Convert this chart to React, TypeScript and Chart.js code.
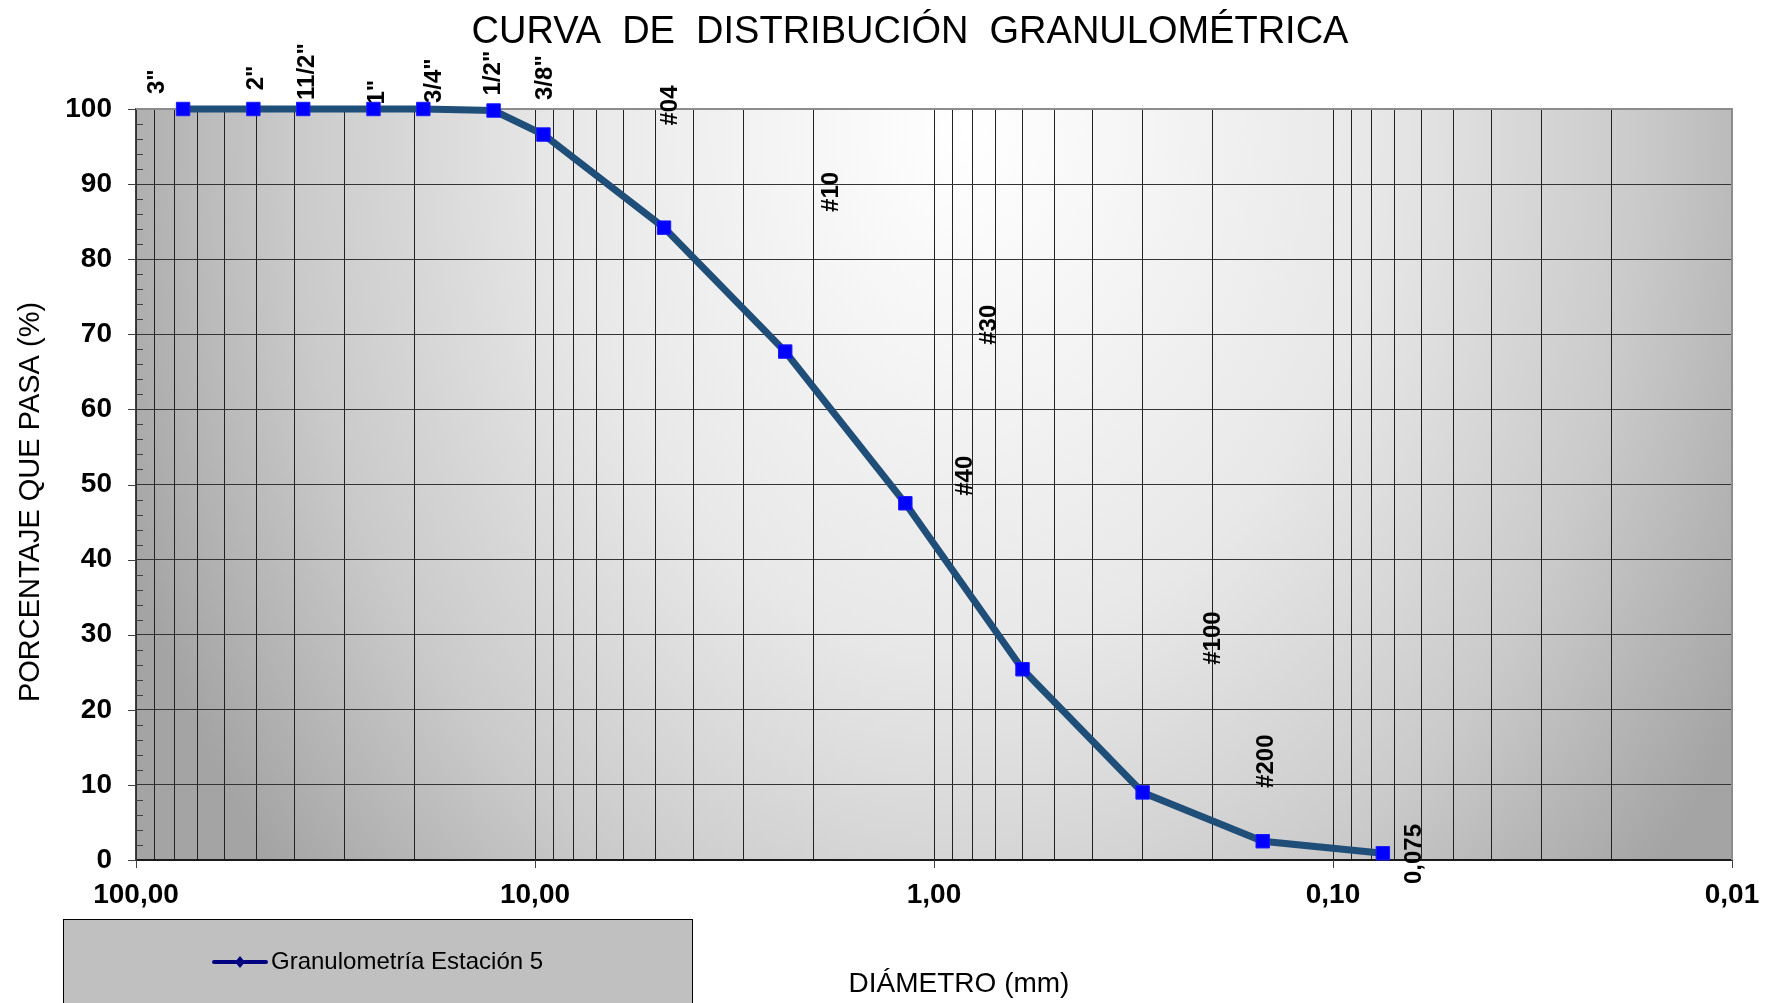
import React, { useEffect, useRef } from 'react';
import { Chart, registerables } from 'chart.js';

Chart.register(...registerables);

// ---- data ----
const sieveSizesMm = [76.2, 50.8, 38.1, 25.4, 19.05, 12.7, 9.525, 4.75, 2.36, 1.18, 0.6, 0.3, 0.15, 0.075];
const percentPassing = [100, 100, 100, 100, 100, 99.8, 96.6, 84.2, 67.7, 47.5, 25.4, 9.0, 2.5, 0.9];

const sieveLabelTexts = ['3"', '2"', '11/2"', '1"', '3/4"', '1/2"', '3/8"', '#04', '#10', '#30', '#40', '#100', '#200', '0,075'];
const sieveLabelX = [88.6, 50.0, 37.1, 24.9, 17.9, 12.7, 9.44, 4.59, 1.81, 0.728, 0.832, 0.2, 0.147, 0.0627];
const sieveLabelY = [102.0, 102.5, 101.2, 100.6, 100.8, 101.8, 101.2, 97.8, 86.3, 68.6, 48.5, 26.0, 9.6, -3.2];

const xMajorTicks = [100, 10, 1, 0.1, 0.01];
const xTickLabels = ['100,00', '10,00', '1,00', '0,10', '0,01'];
const xDecades = [0.01, 0.1, 1, 10];
const xMultipliers = [1, 2, 3, 4, 5, 6, 7, 8, 9];
const yTicks = [0, 10, 20, 30, 40, 50, 60, 70, 80, 90, 100];

const titleText = 'CURVA  DE  DISTRIBUCIÓN  GRANULOMÉTRICA';
const xTitleText = 'DIÁMETRO (mm)';
const yTitleText = 'PORCENTAJE QUE PASA (%)';
const seriesLabel = 'Granulometría Estación 5';

const FONT = "'Liberation Sans', Arial, Helvetica, sans-serif";

const xGridValues: number[] = [];
xDecades.forEach((d) => xMultipliers.forEach((m) => xGridValues.push(parseFloat((m * d).toPrecision(6)))));
xGridValues.push(100);

const decorPlugin = {
  id: 'decor',
  beforeDraw(chart: any) {
    const { ctx, chartArea: a } = chart;
    ctx.save();
    ctx.fillStyle = '#ffffff';
    ctx.fillRect(0, 0, chart.width, chart.height);
    // elliptical radial gradient in plot area
    ctx.beginPath();
    ctx.rect(a.left, a.top, a.right - a.left, a.bottom - a.top);
    ctx.clip();
    const cx = a.left + (a.right - a.left) * 0.52;
    const cy = a.top + 20;
    const rx = 900;
    const ry = 1150;
    ctx.translate(cx, cy);
    ctx.scale(1, ry / rx);
    const g = ctx.createRadialGradient(0, 0, 0, 0, 0, rx);
    g.addColorStop(0, '#ffffff');
    g.addColorStop(0.45, '#e8e8e8');
    g.addColorStop(0.75, '#cacaca');
    g.addColorStop(1, '#a4a4a4');
    ctx.fillStyle = g;
    ctx.fillRect(-2000, -2000, 4000, 4000);
    ctx.restore();
  },
  beforeDatasetsDraw(chart: any) {
    const { ctx, chartArea: a, scales } = chart;
    const xs = scales.x;
    const ys = scales.y;
    ctx.save();
    // top/right border
    ctx.strokeStyle = '#8c8c8c';
    ctx.lineWidth = 2;
    ctx.beginPath();
    ctx.moveTo(a.left, a.top);
    ctx.lineTo(a.right, a.top);
    ctx.lineTo(a.right, a.bottom);
    ctx.stroke();
    // tick marks
    ctx.strokeStyle = '#404040';
    ctx.lineWidth = 1;
    ctx.beginPath();
    yTicks.forEach((v) => {
      const py = Math.round(ys.getPixelForValue(v)) + 0.5;
      ctx.moveTo(a.left - 8, py);
      ctx.lineTo(a.left, py);
    });
    for (let v = 2; v < 100; v += 2) {
      if (v % 10 === 0) continue;
      const py = Math.round(ys.getPixelForValue(v)) + 0.5;
      ctx.moveTo(a.left, py);
      ctx.lineTo(a.left + 7, py);
    }
    xMajorTicks.forEach((v) => {
      const px = Math.round(xs.getPixelForValue(v)) + 0.5;
      ctx.moveTo(px, a.bottom);
      ctx.lineTo(px, a.bottom + 8);
    });
    ctx.stroke();
    // sieve labels
    ctx.fillStyle = '#000000';
    ctx.font = `bold 24px ${FONT}`;
    ctx.textAlign = 'left';
    ctx.textBaseline = 'middle';
    sieveLabelTexts.forEach((t, i) => {
      const px = xs.getPixelForValue(sieveLabelX[i]);
      const py = ys.getPixelForValue(sieveLabelY[i]);
      ctx.save();
      ctx.translate(px, py);
      ctx.rotate(-Math.PI / 2);
      ctx.fillText(t, 0, 0);
      ctx.restore();
    });
    ctx.restore();
  },
  afterDraw(chart: any) {
    const { ctx } = chart;
    ctx.save();
    ctx.fillStyle = '#000000';
    // title
    ctx.font = `38px ${FONT}`;
    ctx.textAlign = 'center';
    ctx.textBaseline = 'middle';
    ctx.fillText(titleText, 910, 33);
    // x title
    ctx.font = `28px ${FONT}`;
    ctx.fillText(xTitleText, 959, 984);
    // y title
    ctx.save();
    ctx.translate(30.5, 502);
    ctx.rotate(-Math.PI / 2);
    ctx.font = `29px ${FONT}`;
    ctx.fillText(yTitleText, 0, 0);
    ctx.restore();
    // legend box
    ctx.fillStyle = '#c0c0c0';
    ctx.fillRect(63.5, 919.5, 629, 100);
    ctx.strokeStyle = '#000000';
    ctx.lineWidth = 1;
    ctx.strokeRect(63.5, 919.5, 629, 100);
    const ly = 962;
    ctx.strokeStyle = '#000080';
    ctx.lineWidth = 4;
    ctx.lineCap = 'round';
    ctx.beginPath();
    ctx.moveTo(214, ly);
    ctx.lineTo(266, ly);
    ctx.stroke();
    ctx.fillStyle = '#000080';
    ctx.beginPath();
    ctx.moveTo(240, ly - 6);
    ctx.lineTo(245, ly);
    ctx.lineTo(240, ly + 6);
    ctx.lineTo(235, ly);
    ctx.closePath();
    ctx.fill();
    ctx.fillStyle = '#000000';
    ctx.font = `24px ${FONT}`;
    ctx.textAlign = 'left';
    ctx.textBaseline = 'middle';
    ctx.fillText(chart.data.datasets[0].label, 271, ly);
    ctx.restore();
  },
};

export default function App() {
  const canvasRef = useRef<HTMLCanvasElement | null>(null);

  useEffect(() => {
    document.body.style.margin = '0';
    const canvas = canvasRef.current;
    if (!canvas) return;
    const chart = new Chart(canvas, {
      type: 'line',
      data: {
        datasets: [
          {
            label: seriesLabel,
            data: sieveSizesMm.map((x, i) => ({ x, y: percentPassing[i] })),
            borderColor: '#1F4E79',
            borderWidth: 7,
            tension: 0,
            fill: false,
            pointStyle: 'rect',
            pointRadius: 9.5,
            pointHoverRadius: 9.5,
            pointBackgroundColor: '#0000FF',
            pointBorderColor: '#1a1aff',
            pointBorderWidth: 1,
            clip: false as any,
          },
        ],
      },
      options: {
        animation: false,
        responsive: true,
        maintainAspectRatio: false,
        layout: { padding: { left: 0, top: 109, right: 43, bottom: 0 } },
        plugins: {
          legend: { display: false },
          title: { display: false },
          tooltip: { enabled: false },
        },
        scales: {
          x: {
            type: 'logarithmic',
            reverse: true,
            min: 0.01,
            max: 100,
            afterBuildTicks: (scale: any) => {
              scale.ticks = xGridValues.map((v) => ({ value: v, major: false }));
            },
            afterFit: (scale: any) => {
              scale.height = 143;
            },
            grid: {
              color: '#222222',
              lineWidth: 1,
              drawTicks: false,
            },
            border: { color: '#1a1a1a', width: 2 },
            ticks: {
              autoSkip: false,
              maxRotation: 0,
              minRotation: 0,
              padding: 18,
              color: '#000000',
              font: { family: FONT, size: 28, weight: 'bold' },
              callback: (value: any) => {
                const idx = xMajorTicks.findIndex((m) => Math.abs(m - Number(value)) < m * 1e-6);
                return idx >= 0 ? xTickLabels[idx] : '';
              },
            },
          },
          y: {
            type: 'linear',
            min: 0,
            max: 100,
            afterBuildTicks: (scale: any) => {
              scale.ticks = yTicks.map((v) => ({ value: v }));
            },
            afterFit: (scale: any) => {
              scale.width = 136;
            },
            grid: {
              color: '#333333',
              lineWidth: 1,
              drawTicks: false,
            },
            border: { color: '#404040', width: 1.5 },
            ticks: {
              padding: 24,
              color: '#000000',
              font: { family: FONT, size: 28, weight: 'bold' },
            },
          },
        },
      },
      plugins: [decorPlugin],
    });
    return () => chart.destroy();
  }, []);

  return (
    <div style={{ position: 'relative', width: '1775px', height: '1003px' }}>
      <canvas ref={canvasRef} />
    </div>
  );
}
